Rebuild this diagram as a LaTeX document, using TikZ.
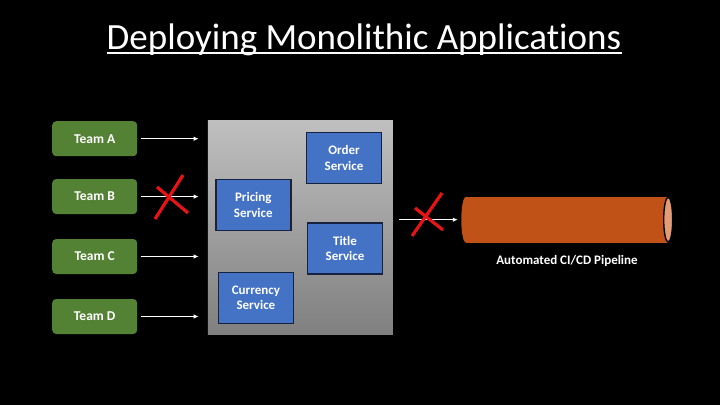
\documentclass[tikz,border=0pt]{standalone}
\usepackage{fontspec}
\setmainfont{Carlito}[Ligatures=NoCommon]
\usepackage{tikz}
\usetikzlibrary{arrows.meta, positioning, calc}
\definecolor{teamgreen}{RGB}{84,130,53}
\definecolor{svcblue}{RGB}{68,114,196}
\definecolor{svcedge}{RGB}{22,34,64}
\definecolor{pipeorange}{RGB}{192,82,24}
\definecolor{pipeend}{RGB}{226,156,118}
\definecolor{crossred}{RGB}{230,20,20}

\begin{document}
\begin{tikzpicture}[x=1pt,y=1pt,
    team/.style={fill=teamgreen,rounded corners=4pt,minimum width=85pt,minimum height=35pt,
      text=white,font=\bfseries\fontsize{13.5}{15.5}\selectfont},
    service/.style={fill=svcblue,draw=svcedge,line width=1.4pt,minimum width=75pt,minimum height=51pt,
      text=white,align=center,font=\bfseries\fontsize{13}{15.5}\selectfont},
    flow/.style={white,line width=1.3pt,-{Latex[length=5pt,width=4.5pt]}},
    cross/.style={crossred,line width=3.2pt}]
  \fill[black] (0,0) rectangle (720,405);
  \useasboundingbox (0,0) rectangle (720,405);
  % title
  \node[text=white,inner sep=0pt,font=\fontsize{37}{40}\selectfont] (title) at (364,365) {Deploying Monolithic Applications};
  \draw[white,line width=2pt] ([yshift=-3.5pt]title.base west) -- ([yshift=-3.5pt]title.base east);
  % monolith
  \node[minimum width=185pt,minimum height=213pt,top color=black!25,bottom color=black!50] (mono) at (300.4,177.5) {};
  \node[service] (order) at (344,247) {Order\\Service};
  \node[service] (pricing) at (253.3,200) {Pricing\\Service};
  \node[service] (titlesvc) at (345,156.5) {Title\\Service};
  \node[service] (currency) at (255.9,107) {Currency\\Service};
  % teams
  \foreach \n/\y in {A/266.3,B/208.4,C/148.5,D/88.5}
    {\node[team] (team\n) at (94.7,\y) {Team \n};
     \draw[flow,shorten <=4pt,shorten >=9pt] (team\n.east) -- (team\n.east -| mono.west);}
  % pipeline
  \node[fill=pipeorange,minimum width=202pt,minimum height=46pt,inner sep=0pt] (pipe) at (567,185.3) {};
  \fill[pipeorange] (pipe.west) ellipse [x radius=4.5pt,y radius=23pt];
  \filldraw[fill=pipeend,draw=black,line width=1.4pt] (pipe.east) ellipse [x radius=4.5pt,y radius=22.5pt];
  \node[text=white,font=\bfseries\fontsize{13}{15}\selectfont,below=9pt of pipe] (pipelabel) {Automated CI/CD Pipeline};
  \draw[flow,shorten <=6pt,shorten >=8pt] (mono.east |- pipe.west) -- (pipe.west);
  % blocked
  \coordinate (xb) at (171,208);
  \draw[cross] ($(xb)+(-16,-22)$) -- ($(xb)+(12,22)$);
  \draw[cross] ($(xb)+(-14,10)$) -- ($(xb)+(17,-16)$);
  \coordinate (xp) at (427,190.5);
  \draw[cross] ($(xp)+(-15,-21.5)$) -- ($(xp)+(15,21.5)$);
  \draw[cross] ($(xp)+(-12,6.5)$) -- ($(xp)+(16,-15.5)$);
\end{tikzpicture}
\end{document}
